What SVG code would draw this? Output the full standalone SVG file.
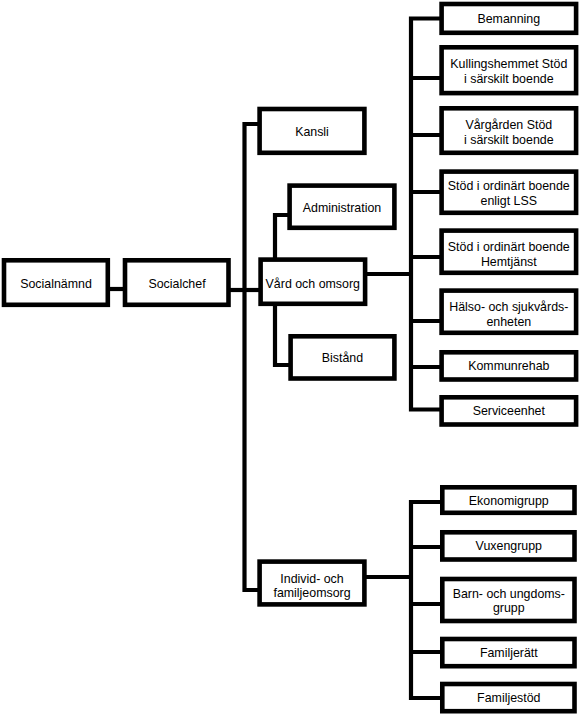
<svg xmlns="http://www.w3.org/2000/svg" width="580" height="716" viewBox="0 0 580 716">
<style>
.c{fill:none;stroke:#000;stroke-width:4.2;stroke-linejoin:miter;stroke-linecap:butt}
.b{fill:#fff;stroke:#000;stroke-width:4.6}
text{font-family:"Liberation Sans",Arial,sans-serif;font-size:12.4px;fill:#000;text-anchor:middle}
</style>
<rect width="580" height="716" fill="#fff"/>
<g id="connectors">
<path class="c" d="M108 289 H125"/>
<path class="c" d="M229 290 H261"/>
<path class="c" d="M260 124 H244.5 V590 H262"/>
<path class="c" d="M290 215 H275 V365 H291"/>
<path class="c" d="M365 274 H411"/>
<path class="c" d="M442 18.5 H411 V409.5 H442"/>
<path class="c" d="M411 78 H442 M411 135 H442 M411 192 H442 M411 257 H442 M411 321 H442 M411 367 H442"/>
<path class="c" d="M365 577 H411"/>
<path class="c" d="M442 502 H411 V698 H442"/>
<path class="c" d="M411 547 H442 M411 604 H442 M411 652 H442"/>
</g>
<g id="socialnamnd"><rect class="b" x="4" y="260.3" width="103.8" height="44.5"/><text x="56" y="287.5">Socialnämnd</text></g>
<g id="socialchef"><rect class="b" x="125" y="260.3" width="103.5" height="44.5"/><text x="177" y="287.5">Socialchef</text></g>
<g id="kansli"><rect class="b" x="259.6" y="109" width="104.8" height="43.8"/><text x="312" y="136">Kansli</text></g>
<g id="administration"><rect class="b" x="289.6" y="185.6" width="104.8" height="42.2"/><text x="342" y="211.5">Administration</text></g>
<g id="vard"><rect class="b" x="260.6" y="259.6" width="104.5" height="44.2"/><text x="312.8" y="287.5">Vård och omsorg</text></g>
<g id="bistand"><rect class="b" x="290.6" y="336.3" width="103.8" height="42.2"/><text x="342.5" y="361.5">Bistånd</text></g>
<g id="individ"><rect class="b" x="259.6" y="561.6" width="104.8" height="42.8"/><text x="312" y="582.5">Individ- och</text><text x="312" y="597">familjeomsorg</text></g>
<g id="bemanning"><rect class="b" x="441.6" y="4" width="134.5" height="28.8"/><text x="508.8" y="23">Bemanning</text></g>
<g id="kullingshemmet"><rect class="b" x="441.6" y="47.3" width="134.5" height="45.8"/><text x="508.8" y="68.3">Kullingshemmet Stöd</text><text x="508.8" y="83.3">i särskilt boende</text></g>
<g id="vargarden"><rect class="b" x="441.6" y="108.3" width="134.5" height="44.5"/><text x="508.8" y="129.3">Vårgården Stöd</text><text x="508.8" y="144.3">i särskilt boende</text></g>
<g id="lss"><rect class="b" x="441.6" y="171.6" width="134.5" height="41.2"/><text x="508.8" y="190">Stöd i ordinärt boende</text><text x="508.8" y="205">enligt LSS</text></g>
<g id="hemtjanst"><rect class="b" x="441.6" y="230.6" width="134.5" height="42.2"/><text x="508.8" y="250.5">Stöd i ordinärt boende</text><text x="508.8" y="265.5">Hemtjänst</text></g>
<g id="halso"><rect class="b" x="441.6" y="290.6" width="134.5" height="42.2"/><text x="508.8" y="310.5">Hälso- och sjukvårds-</text><text x="508.8" y="325.5">enheten</text></g>
<g id="kommunrehab"><rect class="b" x="441.6" y="352.3" width="134.5" height="27.2"/><text x="508.8" y="370.3">Kommunrehab</text></g>
<g id="serviceenhet"><rect class="b" x="441.6" y="397.3" width="134.5" height="27.2"/><text x="508.8" y="415.3">Serviceenhet</text></g>
<g id="ekonomigrupp"><rect class="b" x="442.3" y="487.3" width="132.2" height="25.5"/><text x="508.8" y="504.5">Ekonomigrupp</text></g>
<g id="vuxengrupp"><rect class="b" x="442.3" y="532.3" width="132.2" height="27.2"/><text x="508.8" y="550.3">Vuxengrupp</text></g>
<g id="barn"><rect class="b" x="442.3" y="579" width="132.2" height="42"/><text x="508.8" y="597.5">Barn- och ungdoms-</text><text x="508.8" y="612">grupp</text></g>
<g id="familjeratt"><rect class="b" x="442.3" y="639" width="132.2" height="27.2"/><text x="508.8" y="657">Familjerätt</text></g>
<g id="familjestod"><rect class="b" x="442.3" y="684" width="132.2" height="27.2"/><text x="508.8" y="702">Familjestöd</text></g>
</svg>
